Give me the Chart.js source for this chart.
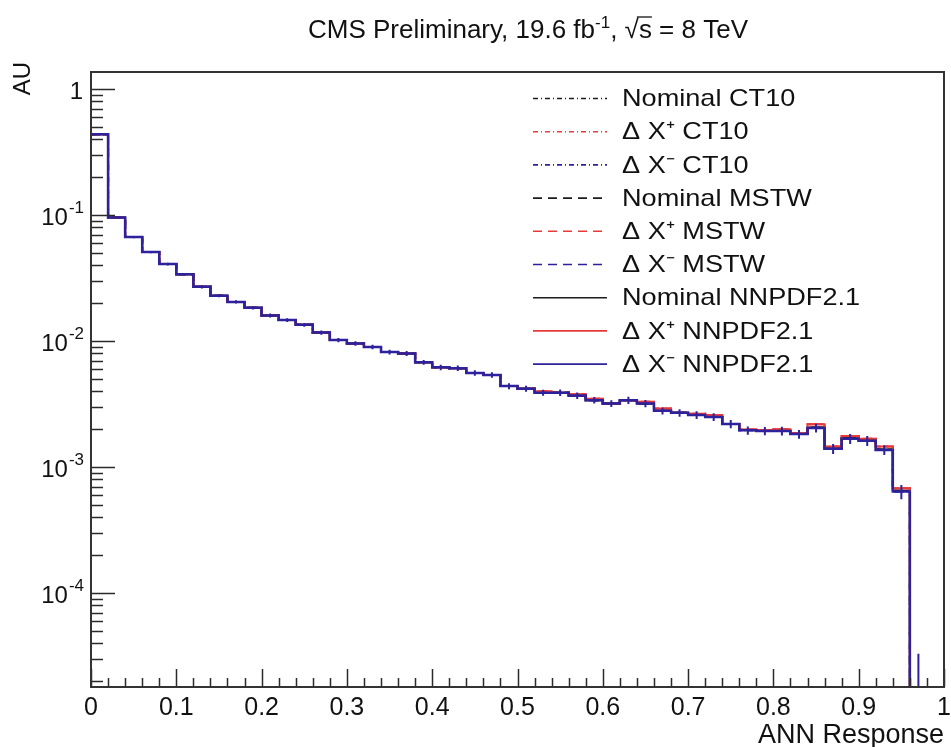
<!DOCTYPE html>
<html>
<head>
<meta charset="utf-8">
<script src="https://cdn.jsdelivr.net/npm/chart.js@4.4.1/dist/chart.umd.min.js"></script>
<style>
  html, body { margin: 0; padding: 0; background: #fff; }
  #wrap { width: 951px; height: 747px; }
</style>
</head>
<body>
<div id="wrap"><canvas id="ann"></canvas></div>
<script>
// histogram: 50 bins on [0, 1]
const xLo = 0, xHi = 1, binW = 0.02;

const nominal = [
  0.44, 0.096, 0.067, 0.051, 0.041, 0.034, 0.027, 0.023, 0.0205, 0.0184,
  0.016, 0.0147, 0.0135, 0.0117, 0.0102, 0.0096, 0.0090, 0.0082, 0.0080, 0.0068,
  0.0062, 0.0061, 0.0056, 0.0054, 0.0044, 0.0042, 0.0039, 0.0039, 0.0037, 0.0034,
  0.0032, 0.0034, 0.0032, 0.0028, 0.0027, 0.0026, 0.0025, 0.0022, 0.00197, 0.00195,
  0.00195, 0.00184, 0.00207, 0.00141, 0.0017, 0.00163, 0.00138, 0.00065, 0.000012, 0.000001
];
const deltaPlus = [
  0.44, 0.096, 0.067, 0.051, 0.041, 0.034, 0.027, 0.023, 0.0205, 0.0184,
  0.016, 0.0147, 0.0135, 0.0117, 0.0102, 0.0096, 0.0090, 0.0082, 0.0080, 0.0068,
  0.0062, 0.0061, 0.0056, 0.0054, 0.0044, 0.0042, 0.0040, 0.0039, 0.0038, 0.0035,
  0.0032, 0.0034, 0.0033, 0.00292, 0.0027, 0.00266, 0.0026, 0.0022, 0.00199, 0.00197,
  0.002, 0.00186, 0.00219, 0.00146, 0.00177, 0.00168, 0.00146, 0.00068, 0.000012, 0.000001
];
const deltaMinus = [
  0.44, 0.096, 0.067, 0.051, 0.041, 0.034, 0.027, 0.023, 0.0205, 0.0184,
  0.016, 0.0147, 0.0135, 0.0117, 0.0102, 0.0096, 0.0090, 0.0082, 0.0080, 0.0068,
  0.0062, 0.0061, 0.0056, 0.0054, 0.0044, 0.0042, 0.0039, 0.0039, 0.0037, 0.0034,
  0.0032, 0.0034, 0.0032, 0.0028, 0.0027, 0.0026, 0.0025, 0.0022, 0.00196, 0.00194,
  0.00194, 0.00183, 0.00205, 0.0014, 0.00168, 0.00162, 0.00137, 0.00064, 0.000012, 0.000001
];
// relative statistical error per bin
const relErr = [
  0.01, 0.015, 0.02, 0.02, 0.025, 0.025, 0.03, 0.03, 0.03, 0.03,
  0.035, 0.035, 0.035, 0.04, 0.04, 0.04, 0.04, 0.045, 0.045, 0.045,
  0.05, 0.05, 0.05, 0.05, 0.055, 0.055, 0.055, 0.06, 0.06, 0.06,
  0.06, 0.065, 0.065, 0.065, 0.07, 0.07, 0.07, 0.075, 0.075, 0.075,
  0.08, 0.08, 0.08, 0.09, 0.09, 0.09, 0.09, 0.13, 1.75, 0
];

const pdfSets = ['CT10', 'MSTW', 'NNPDF2.1'];
const variations = ['Nominal', 'Δ X⁺', 'Δ X⁻'];
const variationValues = [nominal, deltaPlus, deltaMinus];
const lineColors = ['#1c1c1c', '#e83a3a', '#2e229c'];
const setDash = [[5, 3, 1, 3], [9, 6], []];

const xTickLabels = ['0', '0.1', '0.2', '0.3', '0.4', '0.5', '0.6', '0.7', '0.8', '0.9', '1'];
// y labels as base + superscript, index = -log10(value)
const yTickBase = ['1', '10', '10', '10', '10'];
const yTickExp = ['', '-1', '-2', '-3', '-4'];
const yTitle = 'AU';

const FONT = '"Liberation Sans", Arial, Helvetica, sans-serif';

function toSteps(vals) {
  const pts = vals.map((v, i) => ({ x: xLo + i * binW, y: v }));
  pts.push({ x: xHi, y: vals[vals.length - 1] });
  return pts;
}

const datasets = [];
pdfSets.forEach((set, s) => {
  variations.forEach((vr, v) => {
    const idx = datasets.length;
    datasets.push({
      label: vr + ' ' + set,
      data: toSteps(variationValues[v]),
      borderColor: lineColors[v],
      borderDash: setDash[s],
      borderWidth: idx === 8 ? 2.5 : 2,
      stepped: 'before',
      pointRadius: 0,
      fill: false,
      order: 8 - idx
    });
  });
});

const frameAndTicks = {
  id: 'frameAndTicks',
  afterDraw(chart) {
    const { ctx, chartArea: a, scales } = chart;
    const xs = scales.x, ys = scales.y;
    ctx.save();
    ctx.strokeStyle = '#2a2a2a';
    ctx.lineWidth = 1.5;
    ctx.beginPath();
    // y ticks inside the frame
    for (let e = -5; e <= 0; e++) {
      for (let m = 1; m <= 9; m++) {
        const v = m * Math.pow(10, e);
        if (v < ys.min || v > ys.max) continue;
        const py = Math.round(ys.getPixelForValue(v)) + 0.5;
        const len = m === 1 ? 24 : 12;
        ctx.moveTo(a.left, py);
        ctx.lineTo(a.left + len, py);
      }
    }
    // x ticks inside the frame
    for (let i = 0; i <= 50; i++) {
      const px = Math.round(xs.getPixelForValue(i * binW)) + 0.5;
      const len = i % 5 === 0 ? 18 : 9;
      ctx.moveTo(px, a.bottom);
      ctx.lineTo(px, a.bottom - len);
    }
    ctx.stroke();
    ctx.lineWidth = 2;
    ctx.strokeStyle = '#333';
    ctx.strokeRect(a.left, a.top, a.right - a.left, a.bottom - a.top);

    // y tick labels with raised exponents
    ctx.fillStyle = '#111';
    ctx.textBaseline = 'middle';
    ctx.textAlign = 'right';
    yTickBase.forEach((base, k) => {
      const py = ys.getPixelForValue(Math.pow(10, -k));
      const right = a.left - 7;
      let expW = 0;
      if (yTickExp[k]) {
        ctx.font = '17px ' + FONT;
        expW = ctx.measureText(yTickExp[k]).width;
        ctx.fillText(yTickExp[k], right, py - 7);
      }
      ctx.font = '24px ' + FONT;
      ctx.fillText(base, right - expW - 1, py + 3);
    });

    // y axis title, rotated, ending near the top
    ctx.save();
    ctx.translate(23, 62);
    ctx.rotate(-Math.PI / 2);
    ctx.textAlign = 'right';
    ctx.font = '24px ' + FONT;
    ctx.fillText(yTitle, 0, 0);
    ctx.restore();
    ctx.restore();
  }
};

const errorBars = {
  id: 'errorBars',
  afterDatasetsDraw(chart) {
    const { ctx, chartArea: a, scales } = chart;
    const xs = scales.x, ys = scales.y;
    ctx.save();
    ctx.beginPath();
    ctx.rect(a.left, a.top, a.right - a.left, a.bottom - a.top);
    ctx.clip();
    ctx.strokeStyle = lineColors[2];
    ctx.lineWidth = 2;
    ctx.beginPath();
    deltaMinus.forEach((v, i) => {
      if (!relErr[i]) return;
      const px = xs.getPixelForValue(xLo + (i + 0.5) * binW);
      const lo = Math.max(v * (1 - relErr[i]), ys.min * 0.5);
      ctx.moveTo(px, ys.getPixelForValue(lo));
      ctx.lineTo(px, ys.getPixelForValue(v * (1 + relErr[i])));
    });
    ctx.stroke();
    ctx.restore();
  }
};

const rootLegend = {
  id: 'rootLegend',
  afterDraw(chart) {
    const { ctx } = chart;
    ctx.save();
    chart.data.datasets.forEach((ds, i) => {
      const y = 98.5 + i * 33.2;
      ctx.strokeStyle = ds.borderColor;
      ctx.lineWidth = 1.6;
      ctx.setLineDash(ds.borderDash);
      ctx.beginPath();
      ctx.moveTo(533, y);
      ctx.lineTo(607, y);
      ctx.stroke();
      ctx.setLineDash([]);
      ctx.fillStyle = '#111';
      ctx.font = '24px ' + FONT;
      ctx.textBaseline = 'middle';
      ctx.textAlign = 'left';
      ctx.save();
      ctx.translate(622, y + 1);
      ctx.scale(1.13, 1);
      ctx.fillText(ds.label, 0, 0);
      ctx.restore();
    });
    ctx.restore();
  }
};

const rootTitle = {
  id: 'rootTitle',
  afterDraw(chart) {
    const { ctx } = chart;
    const big = '26px ' + FONT, small = '17px ' + FONT;
    const parts = [
      { t: 'CMS Preliminary, 19.6 fb', f: big, dy: 0 },
      { t: '-1', f: small, dy: -10 },
      { t: ', ', f: big, dy: 0 },
      { t: '√', f: big, dy: 0 },
      { t: 's', f: big, dy: 0, bar: true },
      { t: ' = 8 TeV', f: big, dy: 0 }
    ];
    ctx.save();
    ctx.fillStyle = '#111';
    ctx.strokeStyle = '#111';
    ctx.textBaseline = 'alphabetic';
    ctx.textAlign = 'left';
    let total = 0;
    parts.forEach(p => { ctx.font = p.f; p.w = ctx.measureText(p.t).width; total += p.w; });
    let x = 528 - total / 2;
    const base = 38;
    parts.forEach(p => {
      ctx.font = p.f;
      ctx.fillText(p.t, x, base + p.dy);
      if (p.bar) {
        ctx.lineWidth = 1.3;
        ctx.beginPath();
        ctx.moveTo(x - 2, base - 21);
        ctx.lineTo(x + p.w, base - 21);
        ctx.stroke();
      }
      x += p.w;
    });
    ctx.restore();
  }
};

new Chart(document.getElementById('ann'), {
  type: 'line',
  data: { datasets: datasets },
  options: {
    responsive: true,
    maintainAspectRatio: false,
    animation: false,
    events: [],
    layout: { padding: { top: 72, right: 7, bottom: 0, left: 0 } },
    plugins: {
      legend: { display: false },
      tooltip: { enabled: false },
      title: { display: false }
    },
    scales: {
      x: {
        type: 'linear',
        min: xLo,
        max: xHi,
        afterFit: s => { s.height = 60; s.paddingLeft = 0; s.paddingRight = 0; },
        grid: { display: false },
        border: { display: false },
        ticks: {
          stepSize: binW,
          autoSkip: false,
          maxRotation: 0,
          padding: -2,
          color: '#111',
          font: { size: 25, family: FONT },
          callback: function(value) {
            const k = Math.round(value * 10);
            return Math.abs(value * 10 - k) < 1e-6 ? xTickLabels[k] : '';
          }
        },
        title: {
          display: true,
          text: 'ANN Response',
          align: 'end',
          color: '#111',
          font: { size: 27, family: FONT },
          padding: { top: 0, bottom: -5 }
        }
      },
      y: {
        type: 'logarithmic',
        min: 1.8e-5,
        max: 1.37,
        afterFit: s => { s.width = 91; s.paddingTop = 0; s.paddingBottom = 0; },
        grid: { display: false },
        border: { display: false },
        ticks: {
          autoSkip: false,
          padding: 8,
          callback: () => ''
        }
      }
    }
  },
  plugins: [errorBars, frameAndTicks, rootLegend, rootTitle]
});
</script>
</body>
</html>
